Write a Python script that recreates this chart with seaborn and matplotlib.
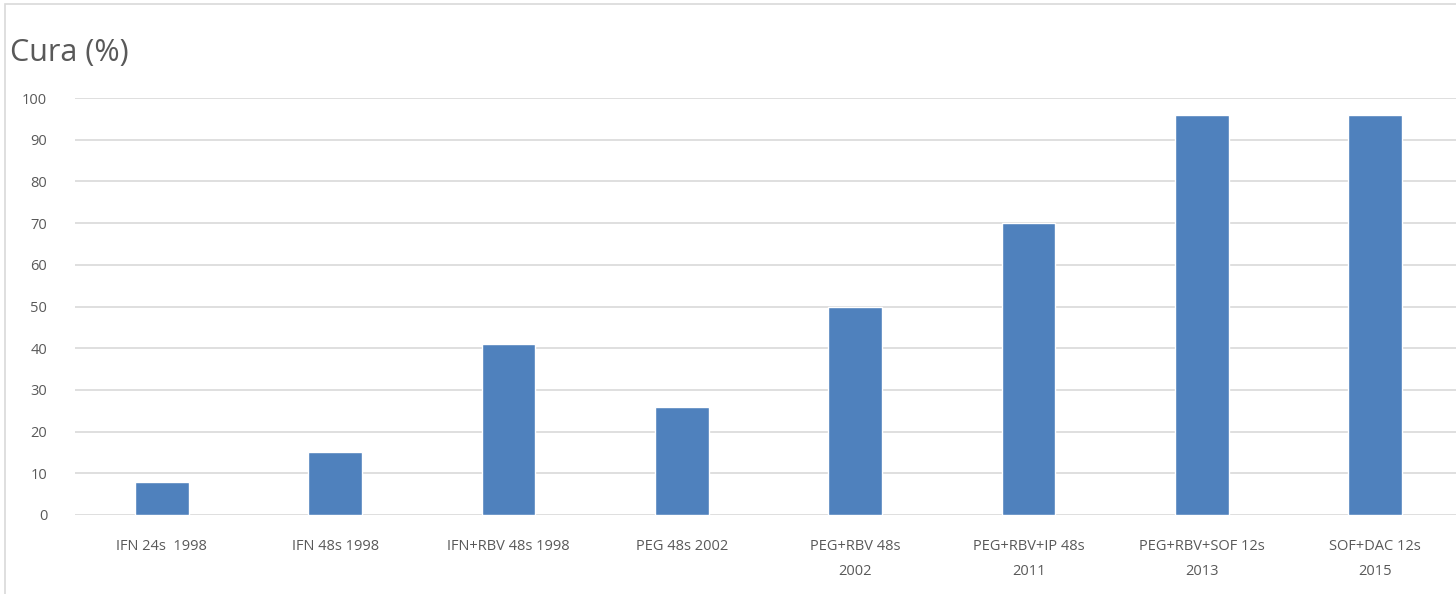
import matplotlib
matplotlib.use("Agg")
import matplotlib.pyplot as plt
import seaborn as sns
import pandas as pd
from matplotlib.patches import Rectangle

# chart data
tratamientos = [
    "IFN 24s  1998",
    "IFN 48s 1998",
    "IFN+RBV 48s 1998",
    "PEG 48s 2002",
    "PEG+RBV 48s\n2002",
    "PEG+RBV+IP 48s\n2011",
    "PEG+RBV+SOF 12s\n2013",
    "SOF+DAC 12s\n2015",
]
cura = [8, 15, 41, 26, 50, 70, 96, 96]
yticks = list(range(0, 101, 10))

df = pd.DataFrame({"tratamiento": tratamientos, "cura": cura})

sns.set_theme(style="white")
plt.rcParams["font.family"] = ["Open Sans", "DejaVu Sans"]

W, H, DPI = 1456, 594, 100
fig = plt.figure(figsize=(W / DPI, H / DPI), dpi=DPI)

# axes in pixel coordinates: left 75, right 1462, top 98, bottom 515
left, right, top, bottom = 75, 1462, 98, 515
ax = fig.add_axes([left / W, 1 - bottom / H, (right - left) / W, (bottom - top) / H])

sns.barplot(data=df, x="tratamiento", y="cura", color="#4F81BD",
            width=0.31, saturation=1, ax=ax, zorder=3)

ax.set_ylim(0, 100)
ax.set_xlim(-0.5, len(tratamientos) - 0.5)
ax.set_yticks(yticks)
ax.yaxis.grid(True, color="#D9D9D9", linewidth=1.2, zorder=0)
ax.set_axisbelow(True)
for s in ax.spines.values():
    s.set_visible(False)
ax.tick_params(axis="both", length=0, labelsize=10.5, labelcolor="#595959")
ax.tick_params(axis="y", pad=20)
ax.tick_params(axis="x", pad=17.5)
ax.set_xlabel("")
ax.set_ylabel("")
for lbl in ax.get_xticklabels():
    lbl.set_linespacing(1.85)
for lbl in ax.get_yticklabels():
    lbl.set_horizontalalignment("right")

fig.text(10 / W, 1 - 53 / H, "Cura (%)", fontsize=22, color="#595959",
         va="center", ha="left")

# chart border (partly cropped in reference)
fig.patches.append(Rectangle((4.5 / W, -0.1), 1.2, 1 - 4.5 / H + 0.1,
                             transform=fig.transFigure, fill=False,
                             edgecolor="#D9D9D9", linewidth=1.2))

fig.savefig("out.png", dpi=DPI)
